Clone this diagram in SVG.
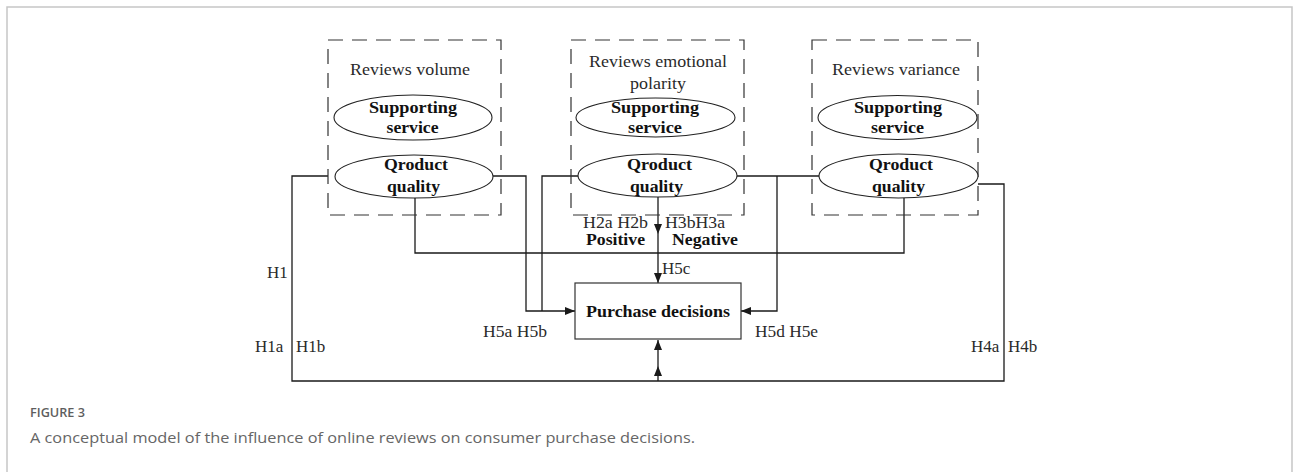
<svg xmlns="http://www.w3.org/2000/svg" width="1293" height="472" viewBox="0 0 1293 472">
  <defs>
    <marker id="arrow" viewBox="0 0 10 8" refX="10" refY="4" markerWidth="10" markerHeight="8" markerUnits="userSpaceOnUse" orient="auto">
      <path d="M0,0 L10,4 L0,8 Z" fill="#1a1a1a"/>
    </marker>
    <style>
      .frame { fill: none; stroke: #c6c6c6; stroke-width: 1.5; }
      .group { fill: none; stroke: #333; stroke-width: 1.2; stroke-dasharray: 15 9; }
      .ell { fill: #fff; stroke: #222; stroke-width: 1.1; }
      .box { fill: #fff; stroke: #333; stroke-width: 1.2; }
      .wire { fill: none; stroke: #1a1a1a; stroke-width: 1.3; }
      .lbl { font-family: "Liberation Serif", "Times New Roman", serif; font-size: 17px; fill: #2a2a2a; }
      .bold { font-family: "Liberation Serif", "Times New Roman", serif; font-size: 17px; font-weight: bold; fill: #111; }
      .mid { text-anchor: middle; }
      .fig { font-family: "Open Sans", "Liberation Sans", sans-serif; font-size: 13px; font-weight: 600; fill: #5e5e5e; }
      .cap { font-family: "Open Sans", "Liberation Sans", sans-serif; font-size: 15px; fill: #666; }
    </style>
  </defs>

  <rect width="1293" height="472" fill="#fff"/>
  <path class="frame" d="M7,480 V7 H1292 V480"/>

  <!-- connectors -->
  <g id="connectors">
    <!-- outer loop: volume (left) and variance (right) to the decision box -->
    <path class="wire" d="M328,176 H292 V381 H1004 V184 H978"/>
    <path class="wire" d="M658,381 L658,366 L658,340" marker-mid="url(#arrow)" marker-end="url(#arrow)"/>
    <!-- volume and emotional polarity feeds into the left side -->
    <path class="wire" d="M493,176 H526 V311 H575" marker-end="url(#arrow)"/>
    <path class="wire" d="M578,176 H542 V311"/>
    <!-- bottom bus from volume and variance quality -->
    <path class="wire" d="M415,198 V253 H904 V198"/>
    <!-- central polarity arrow -->
    <path class="wire" d="M658,197 L658,234 L658,283" marker-mid="url(#arrow)" marker-end="url(#arrow)"/>
    <!-- polarity right to variance, then into the right side -->
    <path class="wire" d="M737,176 H819"/>
    <path class="wire" d="M777,176 V311 H741" marker-end="url(#arrow)"/>
  </g>

  <!-- Reviews volume -->
  <g id="volume">
    <rect class="group" x="328" y="40" width="173" height="175"/>
    <text class="lbl mid" x="410" y="75" textLength="120" lengthAdjust="spacingAndGlyphs">Reviews volume</text>
    <ellipse class="ell" cx="413" cy="117.5" rx="79" ry="22.5"/>
    <text class="bold mid" x="413" y="113" textLength="88" lengthAdjust="spacingAndGlyphs">Supporting</text>
    <text class="bold mid" x="412.5" y="133" textLength="52" lengthAdjust="spacingAndGlyphs">service</text>
    <ellipse class="ell" cx="414" cy="176.5" rx="79" ry="21.5"/>
    <text class="bold mid" x="416" y="170" textLength="64" lengthAdjust="spacingAndGlyphs">Qroduct</text>
    <text class="bold mid" x="413.5" y="192" textLength="53" lengthAdjust="spacingAndGlyphs">quality</text>
  </g>

  <!-- Reviews emotional polarity -->
  <g id="polarity">
    <rect class="group" x="571" y="40" width="173" height="175"/>
    <text class="lbl mid" x="658" y="67" textLength="138" lengthAdjust="spacingAndGlyphs">Reviews emotional</text>
    <text class="lbl mid" x="658" y="89" textLength="56" lengthAdjust="spacingAndGlyphs">polarity</text>
    <ellipse class="ell" cx="655.5" cy="117.5" rx="79.5" ry="19.5"/>
    <text class="bold mid" x="655" y="113" textLength="88" lengthAdjust="spacingAndGlyphs">Supporting</text>
    <text class="bold mid" x="655" y="133" textLength="54" lengthAdjust="spacingAndGlyphs">service</text>
    <ellipse class="ell" cx="657.5" cy="175.5" rx="79.5" ry="21.5"/>
    <text class="bold mid" x="659.5" y="170" textLength="65" lengthAdjust="spacingAndGlyphs">Qroduct</text>
    <text class="bold mid" x="656.5" y="192" textLength="53" lengthAdjust="spacingAndGlyphs">quality</text>
  </g>

  <!-- Reviews variance -->
  <g id="variance">
    <rect class="group" x="812" y="40" width="166" height="175"/>
    <text class="lbl mid" x="896" y="75" textLength="128" lengthAdjust="spacingAndGlyphs">Reviews variance</text>
    <ellipse class="ell" cx="897.5" cy="117.5" rx="79.5" ry="22"/>
    <text class="bold mid" x="898" y="113" textLength="88" lengthAdjust="spacingAndGlyphs">Supporting</text>
    <text class="bold mid" x="897.5" y="133" textLength="53" lengthAdjust="spacingAndGlyphs">service</text>
    <ellipse class="ell" cx="898.5" cy="176" rx="79.5" ry="22"/>
    <text class="bold mid" x="901" y="170" textLength="64" lengthAdjust="spacingAndGlyphs">Qroduct</text>
    <text class="bold mid" x="898.5" y="192" textLength="53" lengthAdjust="spacingAndGlyphs">quality</text>
  </g>

  <!-- Purchase decisions -->
  <g id="decision">
    <rect class="box" x="575" y="283" width="166" height="56"/>
    <text class="bold mid" x="658" y="317" textLength="144" lengthAdjust="spacingAndGlyphs">Purchase decisions</text>
  </g>

  <!-- hypothesis labels -->
  <g id="labels">
    <text class="lbl" x="583" y="228" textLength="65" lengthAdjust="spacingAndGlyphs">H2a H2b</text>
    <text class="bold" x="586" y="245" textLength="59" lengthAdjust="spacingAndGlyphs">Positive</text>
    <text class="lbl" x="665" y="228" textLength="60" lengthAdjust="spacingAndGlyphs">H3bH3a</text>
    <text class="bold" x="672" y="245" textLength="66" lengthAdjust="spacingAndGlyphs">Negative</text>
    <text class="lbl" x="662" y="274">H5c</text>
    <text class="lbl" x="483" y="337" textLength="64" lengthAdjust="spacingAndGlyphs">H5a H5b</text>
    <text class="lbl" x="755" y="337" textLength="63" lengthAdjust="spacingAndGlyphs">H5d H5e</text>
    <text class="lbl" x="267" y="278">H1</text>
    <text class="lbl" x="255" y="352">H1a</text>
    <text class="lbl" x="296" y="352">H1b</text>
    <text class="lbl" x="971" y="352">H4a</text>
    <text class="lbl" x="1008" y="352">H4b</text>
  </g>

  <!-- caption -->
  <text class="fig" x="30" y="417" textLength="55" lengthAdjust="spacingAndGlyphs">FIGURE 3</text>
  <text class="cap" x="30" y="443" textLength="665" lengthAdjust="spacingAndGlyphs">A conceptual model of the influence of online reviews on consumer purchase decisions.</text>
</svg>
